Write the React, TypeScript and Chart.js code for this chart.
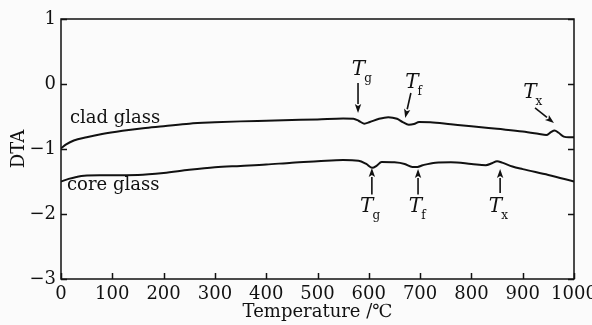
import React, { useEffect, useRef } from "react";
import { Chart, registerables } from "chart.js";

Chart.register(...registerables);

// clad glass curve (Temperature °C, DTA)
const cladT = [0, 10, 25, 50, 80, 120, 160, 200, 250, 300, 350, 400, 450, 500, 550, 570, 580, 591, 602, 620, 638, 655, 666, 678, 688, 698, 720, 760, 800, 850, 900, 930, 946, 955, 962, 970, 980, 990, 1000];
const cladDTA = [-0.99, -0.93, -0.87, -0.82, -0.77, -0.72, -0.68, -0.65, -0.61, -0.59, -0.575, -0.565, -0.555, -0.545, -0.53, -0.535, -0.565, -0.61, -0.585, -0.535, -0.51, -0.535, -0.585, -0.625, -0.615, -0.585, -0.59, -0.62, -0.65, -0.69, -0.73, -0.765, -0.785, -0.74, -0.715, -0.75, -0.81, -0.82, -0.82];

// core glass curve
const coreT = [0, 15, 30, 45, 80, 150, 200, 250, 300, 350, 400, 450, 500, 550, 580, 595, 607, 615, 625, 650, 670, 685, 695, 705, 730, 760, 800, 828, 840, 850, 860, 880, 900, 950, 1000];
const coreDTA = [-1.5, -1.46, -1.43, -1.41, -1.405, -1.4, -1.37, -1.32, -1.28, -1.26, -1.24, -1.21, -1.19, -1.17, -1.18, -1.23, -1.29, -1.26, -1.2, -1.205, -1.23, -1.275, -1.275, -1.25, -1.21, -1.205, -1.23, -1.25, -1.22, -1.19, -1.21, -1.27, -1.31, -1.4, -1.5];

const xTicks = [0, 100, 200, 300, 400, 500, 600, 700, 800, 900, 1000];
const yTicks = [1, 0, -1, -2, -3];

const curveLabels = [
  { text: "clad glass", x: 17.5, y: -0.6 },
  { text: "core glass", x: 11.7, y: -1.63 },
];

// characteristic temperature markers: text anchor (tx,ty), arrow from (ax0,ay0) to tip (ax1,ay1)
const markers = [
  { sub: "g", tx: 567, ty: 0.138, ax0: 579, ay0: 0.015, ax1: 579, ay1: -0.446 },
  { sub: "f", tx: 671, ty: -0.062, ax0: 682, ay0: -0.138, ax1: 671, ay1: -0.523 },
  { sub: "x", tx: 901, ty: -0.215, ax0: 924, ay0: -0.369, ax1: 961, ay1: -0.6 },
  { sub: "g", tx: 583, ty: -1.97, ax0: 606, ay0: -1.7, ax1: 606, ay1: -1.292 },
  { sub: "f", tx: 678, ty: -1.97, ax0: 696, ay0: -1.7, ax1: 696, ay1: -1.308 },
  { sub: "x", tx: 834, ty: -1.97, ax0: 856, ay0: -1.677, ax1: 856, ay1: -1.308 },
];

const FONT = "'DejaVu Serif', 'Liberation Serif', serif";
const INK = "#111111";

const decorPlugin = {
  id: "decor",
  beforeDraw(chart: any) {
    const ctx = chart.ctx;
    ctx.save();
    ctx.fillStyle = "#fbfbfb";
    ctx.fillRect(0, 0, chart.width, chart.height);
    ctx.restore();
  },
  afterDraw(chart: any) {
    const ctx = chart.ctx;
    const { left, right, top, bottom } = chart.chartArea;
    const xs = chart.scales.x;
    const ys = chart.scales.y;
    ctx.save();
    ctx.strokeStyle = INK;
    ctx.lineWidth = 1.5;
    ctx.strokeRect(left, top, right - left, bottom - top);
    ctx.beginPath();
    xTicks.forEach((v) => {
      const px = Math.round(xs.getPixelForValue(v)) + 0.5;
      ctx.moveTo(px, bottom);
      ctx.lineTo(px, bottom - 6);
    });
    yTicks.forEach((v) => {
      const py = Math.round(ys.getPixelForValue(v)) + 0.5;
      ctx.moveTo(left, py);
      ctx.lineTo(left + 6, py);
      ctx.moveTo(right, py);
      ctx.lineTo(right - 6, py);
    });
    ctx.stroke();

    ctx.fillStyle = INK;
    ctx.textBaseline = "alphabetic";
    ctx.textAlign = "left";
    ctx.font = `18px ${FONT}`;
    curveLabels.forEach((l) => {
      ctx.fillText(l.text, xs.getPixelForValue(l.x), ys.getPixelForValue(l.y));
    });

    markers.forEach((m) => {
      const tx = xs.getPixelForValue(m.tx);
      const ty = ys.getPixelForValue(m.ty);
      ctx.font = `italic 20px ${FONT}`;
      ctx.fillText("T", tx, ty);
      const w = ctx.measureText("T").width;
      ctx.font = `12px ${FONT}`;
      ctx.fillText(m.sub, tx + w - 1, ty + 7);

      const x0 = xs.getPixelForValue(m.ax0);
      const y0 = ys.getPixelForValue(m.ay0);
      const x1 = xs.getPixelForValue(m.ax1);
      const y1 = ys.getPixelForValue(m.ay1);
      const ang = Math.atan2(y1 - y0, x1 - x0);
      const hl = 9;
      const hw = 3.2;
      const bx = x1 - hl * Math.cos(ang);
      const by = y1 - hl * Math.sin(ang);
      ctx.lineWidth = 1.6;
      ctx.beginPath();
      ctx.moveTo(x0, y0);
      ctx.lineTo(bx, by);
      ctx.stroke();
      ctx.beginPath();
      ctx.moveTo(x1, y1);
      ctx.lineTo(bx + hw * Math.sin(ang), by - hw * Math.cos(ang));
      ctx.lineTo(bx + 2 * Math.cos(ang), by + 2 * Math.sin(ang));
      ctx.lineTo(bx - hw * Math.sin(ang), by + hw * Math.cos(ang));
      ctx.closePath();
      ctx.fill();
    });
    ctx.restore();
  },
};

export default function App() {
  const ref = useRef<HTMLCanvasElement | null>(null);
  useEffect(() => {
    if (!ref.current) return;
    const chart = new Chart(ref.current, {
      type: "line",
      data: {
        datasets: [
          {
            label: "clad glass",
            data: cladT.map((t, i) => ({ x: t, y: cladDTA[i] })),
            borderColor: INK,
            borderWidth: 2,
            pointRadius: 0,
            cubicInterpolationMode: "monotone",
            fill: false,
          },
          {
            label: "core glass",
            data: coreT.map((t, i) => ({ x: t, y: coreDTA[i] })),
            borderColor: INK,
            borderWidth: 2,
            pointRadius: 0,
            cubicInterpolationMode: "monotone",
            fill: false,
          },
        ],
      },
      options: {
        animation: false,
        responsive: false,
        devicePixelRatio: 1,
        layout: { padding: { top: 19, right: 18, left: 0, bottom: 0 } },
        plugins: { legend: { display: false }, tooltip: { enabled: false } },
        scales: {
          x: {
            type: "linear",
            min: 0,
            max: 1000,
            afterBuildTicks: (s: any) => {
              s.ticks = xTicks.map((v) => ({ value: v }));
            },
            ticks: {
              color: INK,
              font: { family: FONT, size: 18 },
              padding: 5,
              maxRotation: 0,
              autoSkip: false,
              callback: (v: any) => String(v),
            },
            grid: { display: false, drawTicks: false },
            border: { display: false },
            title: {
              display: true,
              text: "Temperature /℃",
              color: INK,
              font: { family: FONT, size: 18 },
              padding: { top: 0, bottom: 2 },
            },
            afterFit: (s: any) => {
              s.height = 46;
              s.paddingLeft = 0;
              s.paddingRight = 0;
            },
          },
          y: {
            min: -3,
            max: 1,
            afterBuildTicks: (s: any) => {
              s.ticks = yTicks.map((v) => ({ value: v }));
            },
            ticks: {
              color: INK,
              font: { family: FONT, size: 18 },
              padding: 5,
              callback: (v: any) => (Number(v) < 0 ? "\u2212" + Math.abs(Number(v)) : String(v)),
            },
            grid: { display: false, drawTicks: false },
            border: { display: false },
            title: {
              display: true,
              text: "DTA",
              color: INK,
              font: { family: FONT, size: 18 },
              padding: { top: 9, bottom: 0 },
            },
            afterFit: (s: any) => {
              s.width = 61;
              s.paddingTop = 0;
              s.paddingBottom = 0;
            },
          },
        },
      },
      plugins: [decorPlugin],
    });
    return () => chart.destroy();
  }, []);
  return (
    <div style={{ position: "absolute", left: 0, top: 0, width: 592, height: 325 }}>
      <canvas ref={ref} width={592} height={325} style={{ width: 592, height: 325, display: "block" }} />
    </div>
  );
}
